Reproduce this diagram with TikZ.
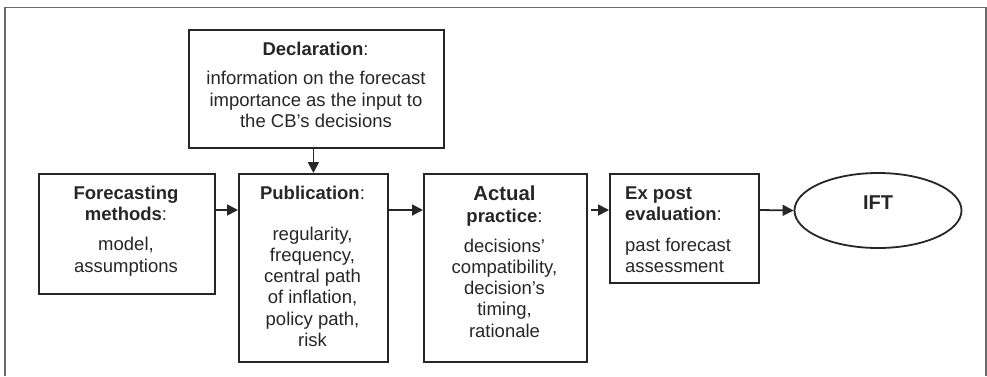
\documentclass[tikz,border=0pt]{standalone}
\usepackage{fontspec}
\setmainfont{Liberation Sans}
\usetikzlibrary{arrows.meta,shapes.geometric}
\definecolor{ink}{HTML}{262626}
\definecolor{framec}{HTML}{6A6A6A}
\tikzset{
  box/.style={draw=ink, line width=1.8pt, rectangle, inner sep=0pt, anchor=north west},
  txt/.style={text=ink, align=center, inner sep=0pt, anchor=base, font=\fontsize{18.5}{21.3}\selectfont},
  ltxt/.style={txt, align=left, anchor=base west},
  conn/.style={draw=ink, line width=1.8pt, -{Triangle[length=11pt,width=11pt]}},
  framel/.style={draw=framec, line width=1.4pt},
}
\begin{document}
\begin{tikzpicture}[x=1pt,y=-1pt]
\useasboundingbox (0,0) rectangle (987,376);
\coordinate (fbl) at (5,376);
\coordinate (ftl) at (5,7.3);
\coordinate (ftr) at (986,7.3);
\coordinate (fbr) at (986,376);
\draw[framel] (fbl) -- (ftl) -- (ftr) -- (fbr);

% boxes
\node[box, minimum width=255pt, minimum height=118pt] (decl) at (188,29) {};
\node[box, minimum width=176pt, minimum height=120pt] (fm) at (38,173) {};
\node[box, minimum width=149pt, minimum height=188pt] (pub) at (238,173) {};
\node[box, minimum width=163pt, minimum height=188pt] (act) at (423,173) {};
\node[box, minimum width=149pt, minimum height=109pt] (ex) at (609,173) {};
\node[draw=ink, line width=1.8pt, ellipse, inner sep=0pt, minimum width=167pt, minimum height=75pt] (ift) at (878,210.5) {};

% texts (positions give the baseline of the last line)
\node[txt] (declt) at (315.5,55) {\textbf{Declaration}:};
\node[txt] (declb) at (316,127.4) {information on the forecast\\importance as the input to\\the CB’s decisions};

\node[txt] (fmt) at (126,220.3) {\textbf{Forecasting}\\\textbf{methods}:};
\node[txt] (fmb) at (126,272) {model,\\assumptions};

\node[txt] (pubt) at (312.5,199) {\textbf{Publication}:};
\node[txt] (pubb) at (312.5,346.5) {regularity,\\frequency,\\central path\\of inflation,\\policy path,\\risk};

\node[txt] (actt) at (504.5,222) {{\fontsize{20.3}{21.3}\selectfont\textbf{Actual}}\\\textbf{practice}:};
\node[txt] (actb) at (504.5,337.2) {decisions’\\compatibility,\\decision’s\\timing,\\rationale};

\node[ltxt] (ext) at (625,220.3) {\textbf{Ex post}\\\textbf{evaluation}:};
\node[ltxt] (exb) at (625,272.3) {past forecast\\assessment};

\node[txt, font=\fontsize{20}{22}\selectfont\bfseries] (iftt) at (878,209) {IFT};

% connectors
\draw[conn] (decl.south -| pub.north) -- (pub.north);
\draw[conn] (fm.east |- 0,210) -- (pub.west |- 0,210);
\draw[conn] (pub.east |- 0,210) -- (act.west |- 0,210);
\draw[conn] ([xshift=3pt]act.east |- 0,210) -- (ex.west |- 0,210);
\draw[conn] (ex.east |- 0,210) -- (ift.west);
\end{tikzpicture}
\end{document}
